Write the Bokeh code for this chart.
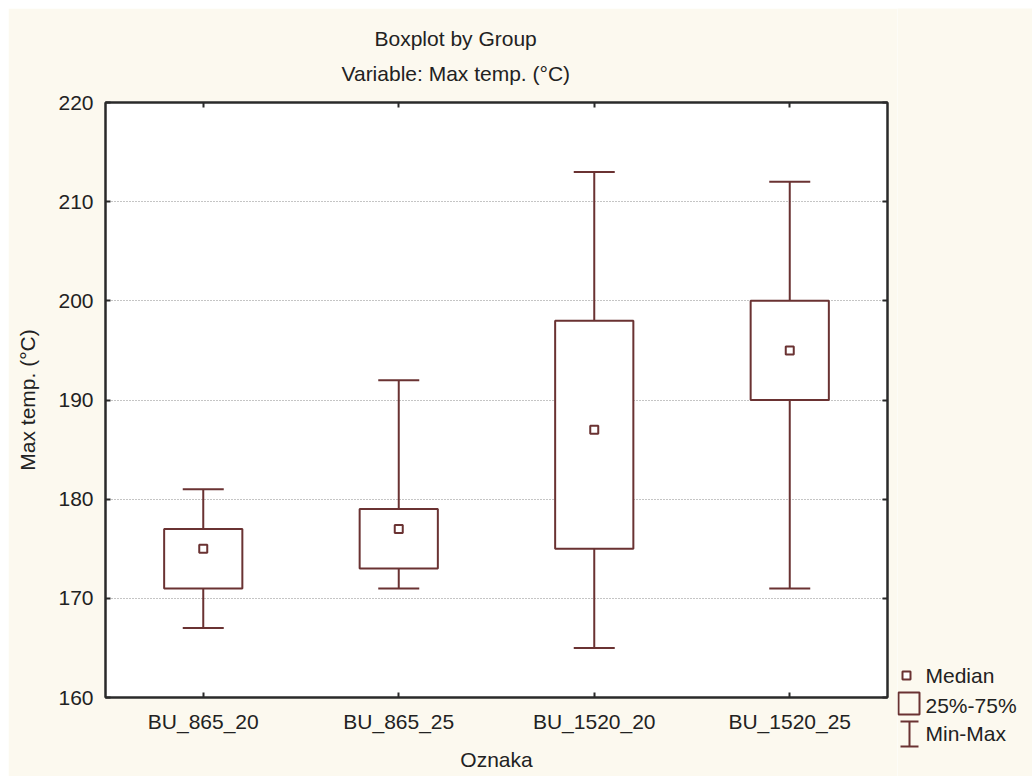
from bokeh.plotting import figure
from bokeh.models import (ColumnDataSource, Whisker, TeeHead, CategoricalAxis, LinearAxis,
                          Title, Range1d, FixedTicker, Spacer)
from bokeh.layouts import row, column
from bokeh.embed import file_html
from bokeh.resources import INLINE
from bokeh.core.properties import value

# ---- data ----
categories = ["BU_865_20", "BU_865_25", "BU_1520_20", "BU_1520_25"]
mins = [167, 171, 165, 171]
q1 = [171, 173, 175, 190]
medians = [175, 177, 187, 195]
q3 = [177, 179, 198, 200]
maxs = [181, 192, 213, 212]
y_ticks = [160, 170, 180, 190, 200, 210, 220]
grid_ticks = [170, 180, 190, 200, 210]
legend_labels = ["Median", "25%-75%", "Min-Max"]

BG = "#fcf9ef"
BROWN = "#6a3232"
AX = "#2a2a2a"
TXT = "#222222"
FONT = "Liberation Sans"
FS = "21px"

src = ColumnDataSource(dict(cat=categories, lo=mins, q1=q1, med=medians, q3=q3, hi=maxs))

p = figure(x_range=categories, y_range=Range1d(160, 220), width=889, height=768,
           output_backend="svg", toolbar_location=None, title=None,
           min_border_left=97, min_border_right=10, min_border_top=94, min_border_bottom=79,
           background_fill_color="white", border_fill_color=BG,
           outline_line_color=AX, outline_line_width=2, frame_align=False)

# grid
p.xgrid.visible = False
p.ygrid.ticker = FixedTicker(ticks=grid_ticks)
p.ygrid.grid_line_color = "#8a8a8a"
p.ygrid.grid_line_dash = "1 2"
p.ygrid.grid_line_width = 1

# whiskers (min-max)
w = Whisker(source=src, base="cat", lower="lo", upper="hi", line_color=BROWN, line_width=2,
            level="underlay",
            upper_head=TeeHead(size=41, line_color=BROWN, line_width=2),
            lower_head=TeeHead(size=41, line_color=BROWN, line_width=2))
p.add_layout(w)

# boxes
p.vbar(x="cat", bottom="q1", top="q3", width=0.4, source=src,
       fill_color="white", line_color=BROWN, line_width=2)
# medians
p.scatter(x="cat", y="med", marker="square", size=8, source=src,
          fill_color="white", line_color=BROWN, line_width=2)

def style_axis(ax, labels=True):
    ax.axis_line_color = AX
    ax.axis_line_width = 2
    ax.major_tick_line_color = AX
    ax.major_tick_line_width = 2
    ax.major_tick_in = 5
    ax.major_tick_out = 0
    ax.minor_tick_line_color = None
    ax.major_label_text_font = FONT
    ax.major_label_text_color = TXT
    ax.major_label_text_font_size = FS if labels else "0px"
    ax.axis_label_text_font = FONT
    ax.axis_label_text_font_size = FS
    ax.axis_label_text_font_style = "normal"
    ax.axis_label_text_color = TXT

p.yaxis.ticker = FixedTicker(ticks=y_ticks)
style_axis(p.yaxis[0])
style_axis(p.xaxis[0])
p.yaxis.axis_label = "Max temp. (°C)"
p.xaxis.axis_label = "Oznaka"
p.yaxis.major_label_standoff = 12
p.yaxis.axis_label_standoff = 16
p.xaxis.major_label_standoff = 12
p.xaxis.axis_label_standoff = 12

ra = LinearAxis(ticker=FixedTicker(ticks=y_ticks))
style_axis(ra, labels=False)
ra.major_label_standoff = 0
p.add_layout(ra, "right")

ta = CategoricalAxis()
style_axis(ta, labels=False)
ta.major_label_standoff = 0
p.add_layout(ta, "above")

t2 = Title(text="Variable: Max temp. (°C)", align="left", offset=236, standoff=36,
           text_font=FONT, text_font_size=FS, text_font_style="normal", text_color=TXT)
p.add_layout(t2, "above")
t1 = Title(text="Boxplot by Group", align="left", offset=269, standoff=-16,
           text_font=FONT, text_font_size=FS, text_font_style="normal", text_color=TXT)
p.add_layout(t1, "above")

# ---- legend panel ----
leg = figure(width=135, height=768, x_range=Range1d(0, 135), y_range=Range1d(768, 0),
             output_backend="svg", toolbar_location=None, title=None,
             min_border=0, x_axis_type=None, y_axis_type=None, frame_align=False,
             background_fill_color=BG, border_fill_color=BG, outline_line_color=None)
leg.scatter(x=[9], y=[667], marker="square", size=8, fill_color="white",
            line_color=BROWN, line_width=2)
leg.quad(left=[1], right=[22], top=[684], bottom=[706], fill_color=None,
         line_color=BROWN, line_width=2)
leg.segment(x0=[12, 3, 3], y0=[713, 713, 738], x1=[12, 21, 21], y1=[738, 713, 738],
            line_color=BROWN, line_width=2)
leg.text(x=[28, 28, 28], y=[667, 697, 725], text=legend_labels,
         text_font=value(FONT), text_font_size=FS, text_color=TXT,
         text_baseline="middle", text_align="left")

layout = column(Spacer(height=8, width=1032),
                row(Spacer(width=8, height=768), p, leg))
open("out.html", "w").write(file_html(layout, INLINE))
